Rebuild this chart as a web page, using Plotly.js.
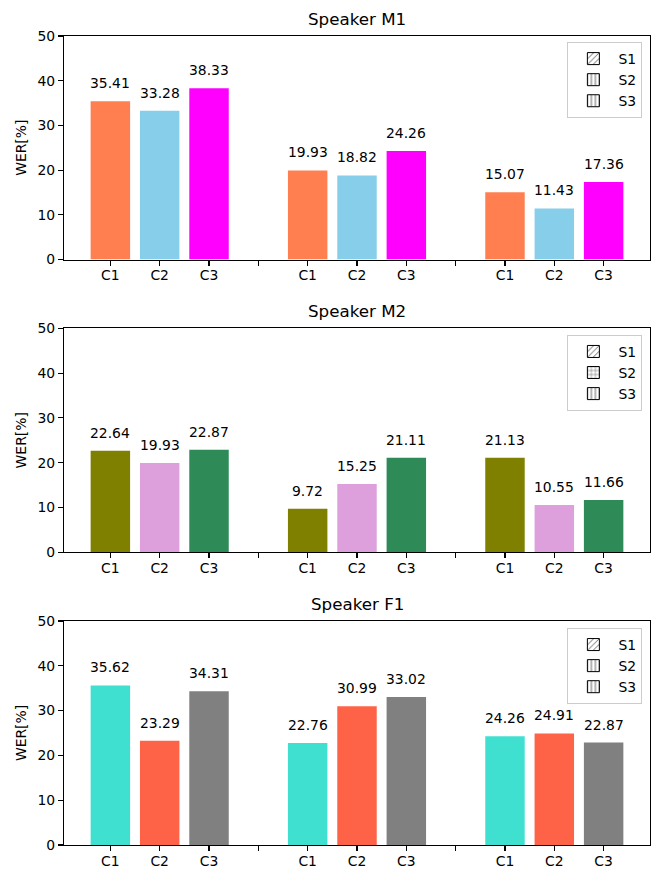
<!DOCTYPE html>
<html>
<head>
<meta charset="utf-8">
<script src="https://cdn.plot.ly/plotly-3.0.1.min.js"></script>
<style>
  html, body { margin: 0; padding: 0; background: #ffffff; }
  #chart { width: 654px; height: 869px; }
</style>
</head>
<body>
<div id="chart"></div>
<script>
// ---- data ----
const conditions = ['C1', 'C2', 'C3'];
const groupCount = 3;
const speakers = ['Speaker M1', 'Speaker M2', 'Speaker F1'];
const werM1 = [35.41, 33.28, 38.33, 19.93, 18.82, 24.26, 15.07, 11.43, 17.36];
const werM2 = [22.64, 19.93, 22.87, 9.72, 15.25, 21.11, 21.13, 10.55, 11.66];
const werF1 = [35.62, 23.29, 34.31, 22.76, 30.99, 33.02, 24.26, 24.91, 22.87];
const legendLabels = ['S1', 'S2', 'S3'];
const yTickValues = [0, 10, 20, 30, 40, 50];

// ---- styles ----
const colorsM1 = ['#FF7F50', '#87CEEB', '#FF00FF'];
const colorsM2 = ['#808000', '#DDA0DD', '#2E8B57'];
const colorsF1 = ['#40E0D0', '#FF6347', '#808080'];
const hatchM1 = ['/', '|', '|'];
const hatchM2 = ['/', '+', '|'];
const hatchF1 = ['/', '|', '|'];
const FONT = 'DejaVu Sans, Arial, sans-serif';
const FS = 13.9;

const series = [
  {name: speakers[0], values: werM1, colors: colorsM1, hatch: hatchM1},
  {name: speakers[1], values: werM2, colors: colorsM2, hatch: hatchM2},
  {name: speakers[2], values: werF1, colors: colorsF1, hatch: hatchF1}
];

const step = conditions.length + 1;
const xPos = [];
const tickVals = [];
const tickText = [];
for (let g = 0; g < groupCount; g++) {
  conditions.forEach((c, i) => { xPos.push(g * step + i); });
}
for (let v = 0; v < groupCount * step - 1; v++) {
  tickVals.push(v);
  tickText.push(v % step < conditions.length ? conditions[v % step] : '');
}

const domains = [[0.7237, 1.0], [0.3618, 0.6387], [0.0, 0.2769]];
const legendTops = [0.9925, 0.6305, 0.2682];

const traces = [];
const annotations = [];
const layout = {
  width: 654, height: 869,
  margin: {l: 64, r: 4, t: 36, b: 24},
  paper_bgcolor: '#ffffff', plot_bgcolor: '#ffffff',
  barmode: 'overlay',
  showlegend: true,
  font: {family: FONT, size: FS, color: '#000000'},
  hovermode: false,
  annotations: annotations
};

series.forEach((s, k) => {
  const sfx = k === 0 ? '' : String(k + 1);
  const xa = 'x' + sfx, ya = 'y' + sfx;
  const legendId = 'legend' + sfx;
  traces.push({
    type: 'bar', x: xPos, y: s.values, width: 0.8,
    xaxis: xa, yaxis: ya, showlegend: false,
    marker: {color: xPos.map((_, j) => s.colors[j % conditions.length]), line: {width: 0}}
  });
  legendLabels.forEach((lab, i) => {
    traces.push({
      type: 'bar', x: [null], y: [null], name: lab, xaxis: xa, yaxis: ya,
      legend: legendId, showlegend: true,
      marker: {color: '#ffffff', line: {color: '#000000', width: 1},
        pattern: {shape: s.hatch[i], fgcolor: '#000000', bgcolor: '#ffffff', size: 5, solidity: 0.15}}
    });
  });
  layout['xaxis' + sfx] = {
    domain: [0, 1], anchor: ya, range: [-0.94, 10.94],
    tickmode: 'array', tickvals: tickVals, ticktext: tickText,
    ticks: 'outside', ticklen: 5, tickwidth: 1.1, tickcolor: '#000000',
    ticklabelstandoff: -2,
    showline: true, linecolor: '#000000', linewidth: 1.1, mirror: true,
    showgrid: false, zeroline: false,
    tickfont: {family: FONT, size: FS, color: '#000000'}
  };
  layout['yaxis' + sfx] = {
    domain: domains[k], anchor: xa, range: [0, 50],
    tickmode: 'array', tickvals: yTickValues,
    ticks: 'outside', ticklen: 5, tickwidth: 1.1, tickcolor: '#000000',
    showline: true, linecolor: '#000000', linewidth: 1.1, mirror: true,
    showgrid: false, zeroline: false,
    tickfont: {family: FONT, size: FS, color: '#000000'},
    title: {text: 'WER[%]', font: {family: FONT, size: FS, color: '#000000'}, standoff: 7}
  };
  layout[legendId] = {
    x: 0.987, y: legendTops[k], xref: 'paper', yref: 'paper',
    xanchor: 'right', yanchor: 'top',
    bgcolor: 'rgba(255,255,255,0.8)', bordercolor: '#cccccc', borderwidth: 1,
    font: {family: FONT, size: FS, color: '#000000'},
    itemwidth: 40,
    tracegroupgap: 0
  };
  annotations.push({
    text: s.name, xref: 'paper', yref: 'paper', x: 0.5, y: domains[k][1],
    xanchor: 'center', yanchor: 'middle', yshift: 17, showarrow: false,
    font: {family: FONT, size: 16.7, color: '#000000'}
  });
  s.values.forEach((v, j) => {
    annotations.push({
      text: v.toFixed(2), xref: xa, yref: ya, x: xPos[j], y: v,
      xanchor: 'center', yanchor: 'middle', yshift: 18, showarrow: false,
      font: {family: FONT, size: FS, color: '#000000'}
    });
  });
});

Plotly.newPlot('chart', traces, layout, {displayModeBar: false, staticPlot: true});
</script>
</body>
</html>
